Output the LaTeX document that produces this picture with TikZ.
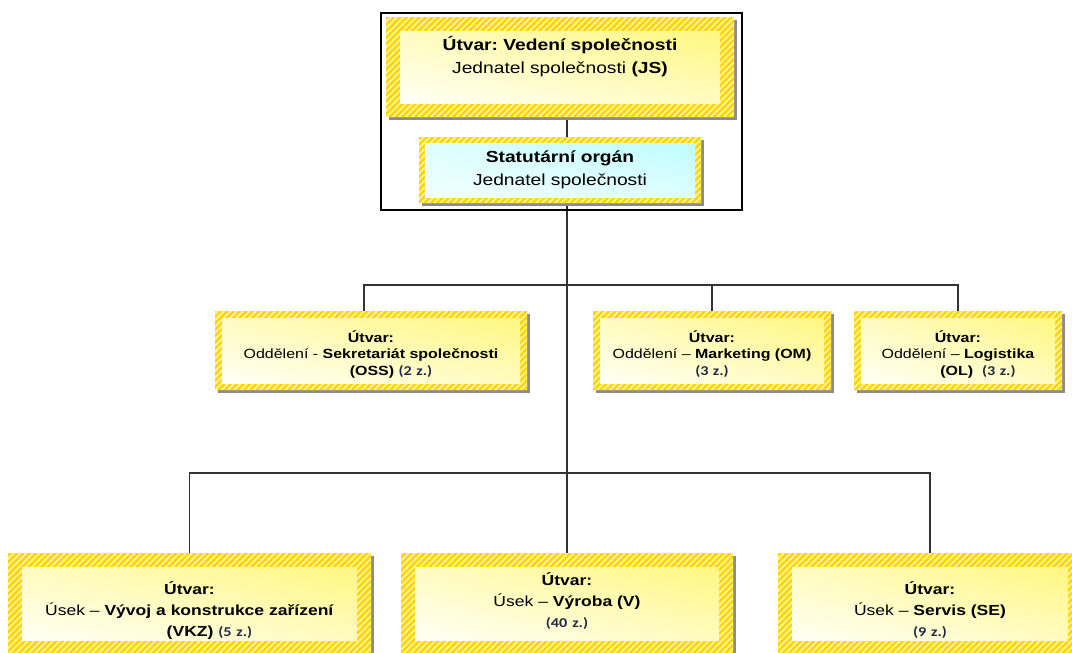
\documentclass[tikz,border=0pt]{standalone}
\usepackage{fontspec}
\setmainfont{Liberation Sans}[FakeStretch=1.2]
\newfontfamily\zfont{Carlito}[FakeStretch=1.2]
\usetikzlibrary{calc,backgrounds,patterns.meta,shadings}
\frenchspacing
\definecolor{hatchbg}{HTML}{FFF38C}
\definecolor{hatchln}{HTML}{FFD200}
\definecolor{shadowgray}{HTML}{8C8C8C}
\definecolor{navy}{HTML}{1F2A44}
\definecolor{yelhi}{HTML}{FFF780}
\definecolor{yelmid}{HTML}{FFFBC0}
\definecolor{yello}{HTML}{FFFFF5}
\definecolor{cyahi}{HTML}{BFFCFF}
\definecolor{cyamid}{HTML}{DDFEFF}
\definecolor{cyalo}{HTML}{F2FFFF}

% headcount in small Carlito
\newcommand\zam[1]{{\zfont\bfseries\fontsize{13.5}{14}\selectfont\textcolor{navy}{(#1~z.)}}}
% hatched frame of thickness #2 round node #1, with drop shadow
\newcommand\hatchframe[2]{%
  \fill[shadowgray] ($(#1.north west)+(-#2pt+3pt,#2pt-3pt)$) rectangle ($(#1.south east)+(#2pt+3pt,-#2pt-3pt)$);
  \path[frame] ($(#1.north west)+(-#2pt,#2pt)$) rectangle ($(#1.south east)+(#2pt,-#2pt)$)
    (#1.north west) rectangle (#1.south east);}

\begin{document}
\begin{tikzpicture}[x=1pt,y=-1pt,
   u/.style={anchor=north west,inner sep=0pt,outer sep=0pt,align=center,shade},
   yel/.style={lower left=yello,upper left=yelmid,lower right=yelmid,upper right=yelhi},
   cya/.style={lower left=cyalo,upper left=cyamid,lower right=cyamid,upper right=cyahi},
   big/.style={font=\fontsize{16}{23}\selectfont},
   mid/.style={font=\fontsize{13.3}{16.5}\selectfont},
   low/.style={font=\fontsize{14.6}{21}\selectfont},
   frame/.style={even odd rule,preaction={fill=hatchbg},
                 pattern={Lines[angle=45,distance=4.5pt,line width=2.2pt]},pattern color=hatchln},
   link/.style={draw=black!80,line width=1.4pt}]
  \useasboundingbox (0,0) rectangle (1072,653);
  \node[u,yel,big,text width=320pt,text height=19pt,text depth=53pt] (top) at (400,31)
    {\textbf{Útvar: Vedení společnosti}\\Jednatel společnosti \textbf{(JS)}};
  \node[u,cya,big,text width=270pt,text height=19pt,text depth=35pt] (stat) at (425,143)
    {\textbf{Statutární orgán}\\Jednatel společnosti};
  \node[u,yel,mid,text width=298pt,text height=24pt,text depth=41pt] (oss) at (222,318)
    {\textbf{Útvar:}\\Oddělení - \textbf{Sekretariát společnosti}\\\hspace*{40pt}\textbf{(OSS)} \zam{2}};
  \node[u,yel,mid,text width=224pt,text height=24pt,text depth=41pt] (om) at (600,318)
    {\textbf{Útvar:}\\Oddělení – \textbf{Marketing (OM)}\\\zam{3}};
  \node[u,yel,mid,text width=194pt,text height=24pt,text depth=41pt] (ol) at (861,318)
    {\textbf{Útvar:}\\Oddělení – \textbf{Logistika}\\\hspace*{40pt}\textbf{(OL)}\ \ \zam{3}};
  \node[u,yel,low,text width=335pt,text height=27pt,text depth=46pt] (vkz) at (22,567)
    {\textbf{Útvar:}\\Úsek – \textbf{Vývoj a konstrukce zařízení}\\\hspace*{40pt}\textbf{(VKZ)} \zam{5}};
  \node[u,yel,low,text width=304pt,text height=18pt,text depth=55pt] (v) at (415,567)
    {\textbf{Útvar:}\\Úsek – \textbf{Výroba (V)}\\\zam{40}};
  \node[u,yel,low,text width=276pt,text height=27pt,text depth=46pt] (se) at (792,567)
    {\textbf{Útvar:}\\Úsek – \textbf{Servis (SE)}\\\zam{9}};
  \draw[line width=2pt] (381,13) rectangle (742,210);
  \coordinate (spine) at (567,0);
  \coordinate (midbus) at (0,285);
  \coordinate (lowbus) at (0,473);
  \begin{scope}[on background layer]
    \draw[link] (top.south -| spine) -- (stat.north -| spine);
    \draw[link] (stat.south -| spine) -- (v.north -| spine);
    \draw[link] ([xshift=-7pt]oss.north) |- (midbus -| ol.north) -- (ol.north);
    \draw[link] (om.north) -- (om.north |- midbus);
    \draw[link] (vkz.north) |- (lowbus -| se.north) -- (se.north);
    \foreach \n/\t in {top/14,stat/6,oss/7,om/7,ol/7,vkz/14,v/14,se/14}
      \hatchframe{\n}{\t};
  \end{scope}
\end{tikzpicture}
\end{document}
